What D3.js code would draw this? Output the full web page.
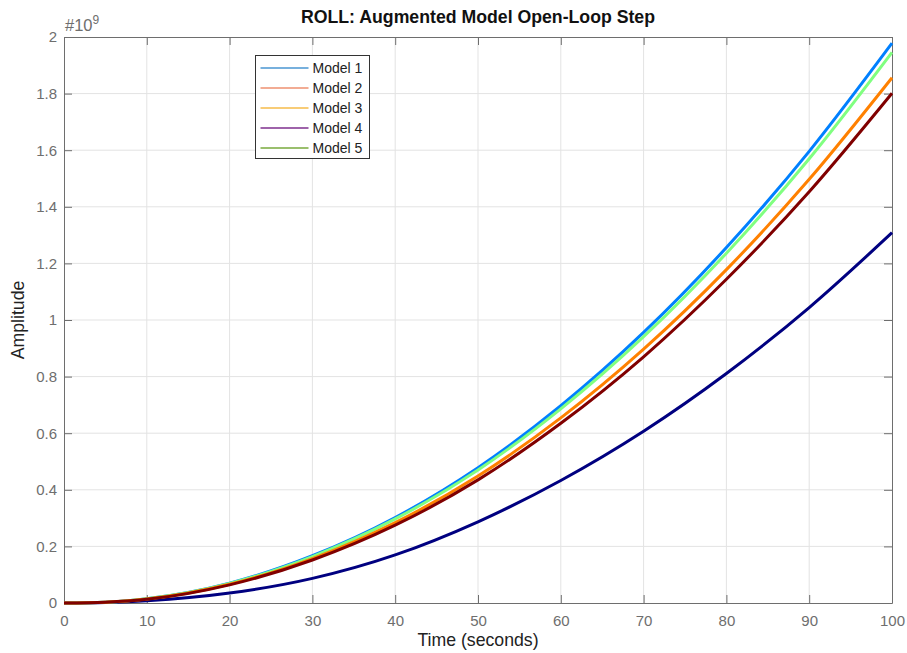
<!DOCTYPE html>
<html>
<head>
<meta charset="utf-8">
<script src="https://cdn.jsdelivr.net/npm/d3@7"></script>
<style>
  body { margin: 0; background: #fff; }
  svg text { font-family: "Liberation Sans", Arial, sans-serif; }
</style>
</head>
<body>
<div id="chart"></div>
<script>
// data, amplitude in units of 1e9
var time = [0, 5, 10, 20, 30, 40, 50, 60, 70, 80, 90, 100]
var navy = [0, 0.002, 0.008, 0.035, 0.087, 0.170, 0.287, 0.433, 0.607, 0.811, 1.044, 1.3085]
var blue = [0, 0.003, 0.015, 0.070, 0.167, 0.302, 0.478, 0.697, 0.956, 1.256, 1.596, 1.978]
var green = [0, 0.003, 0.015, 0.069, 0.164, 0.297, 0.470, 0.686, 0.941, 1.236, 1.570, 1.946]
var orange = [0, 0.003, 0.014, 0.066, 0.157, 0.284, 0.449, 0.654, 0.897, 1.178, 1.497, 1.856]
var darkred = [0, 0.003, 0.013, 0.064, 0.152, 0.275, 0.435, 0.635, 0.870, 1.144, 1.453, 1.801]

var plotSeries = [navy, blue, green, orange, darkred]
var plotColors = ["#000080", "#0080ff", "#80ff80", "#ff8000", "#800000"]

var legendNames = ["Model 1", "Model 2", "Model 3", "Model 4", "Model 5"]
var legendColors = ["#77b0dd", "#ee9070", "#f6bb4a", "#7e2f8e", "#79aa3c"]

var xTicks = [0, 10, 20, 30, 40, 50, 60, 70, 80, 90, 100]
var yTicks = [0, 0.2, 0.4, 0.6, 0.8, 1, 1.2, 1.4, 1.6, 1.8, 2]

canvas = ({width: 907, height: 653})
margin = ({top: 37, right: 15, bottom: 50, left: 64})

var x = d3.scaleLinear().domain([0, 100]).range([margin.left, canvas.width - margin.right])
var y = d3.scaleLinear().domain([0, 2]).range([canvas.height - margin.bottom, margin.top])

var svg = d3.select("#chart").append("svg")
    .attr("width", canvas.width)
    .attr("height", canvas.height)

var axisGray = "#6e6e6e"

// grid
svg.append("g").selectAll("line").data(xTicks.slice(1, -1)).join("line")
    .attr("x1", d => x(d)).attr("x2", d => x(d))
    .attr("y1", y(0)).attr("y2", y(2))
    .attr("stroke", "#e3e3e3").attr("stroke-width", 1)
svg.append("g").selectAll("line").data(yTicks.slice(1, -1)).join("line")
    .attr("x1", x(0)).attr("x2", x(100))
    .attr("y1", d => y(d)).attr("y2", d => y(d))
    .attr("stroke", "#e3e3e3").attr("stroke-width", 1)

// axes with inward ticks, all four sides
var tick = 8
svg.append("g")
    .attr("transform", `translate(0,${y(0)})`)
    .call(d3.axisBottom(x).tickValues(xTicks).tickSizeInner(-tick).tickSizeOuter(0).tickPadding(12))
svg.append("g")
    .attr("transform", `translate(0,${y(2)})`)
    .call(d3.axisTop(x).tickValues(xTicks).tickSizeInner(-tick).tickSizeOuter(0).tickFormat(""))
svg.append("g")
    .attr("transform", `translate(${x(0)},0)`)
    .call(d3.axisLeft(y).tickValues(yTicks).tickSizeInner(-tick).tickSizeOuter(0).tickPadding(7).tickFormat(d3.format("~g")))
svg.append("g")
    .attr("transform", `translate(${x(100)},0)`)
    .call(d3.axisRight(y).tickValues(yTicks).tickSizeInner(-tick).tickSizeOuter(0).tickFormat(""))

svg.selectAll(".domain, .tick line").attr("stroke", axisGray)
svg.selectAll(".tick text").attr("fill", axisGray).style("font-size", "15px")

// exponent label
var ex = svg.append("text")
    .attr("x", x(0) + 1).attr("y", y(2) - 6)
    .attr("fill", axisGray).style("font-size", "16.5px")
ex.append("tspan").text("#10")
ex.append("tspan").attr("dy", -7).style("font-size", "12px").text("9")

// lines
var line = d3.line()
    .x((d, i) => x(time[i]))
    .y(d => y(d))
    .curve(d3.curveMonotoneX)

svg.append("g").selectAll("path").data(plotSeries).join("path")
    .attr("fill", "none")
    .attr("stroke", (d, i) => plotColors[i])
    .attr("stroke-width", 3)
    .attr("stroke-linejoin", "round")
    .attr("d", d => line(d))

// titles
svg.append("text")
    .attr("x", (x(0) + x(100)) / 2).attr("y", 23)
    .attr("text-anchor", "middle")
    .style("font-size", "17.7px").style("font-weight", "bold")
    .attr("fill", "#111")
    .text("ROLL: Augmented Model Open-Loop Step")
svg.append("text")
    .attr("x", (x(0) + x(100)) / 2).attr("y", 646)
    .attr("text-anchor", "middle")
    .style("font-size", "17.7px").attr("fill", "#222")
    .text("Time (seconds)")
svg.append("text")
    .attr("transform", `translate(24,${(y(0) + y(2)) / 2}) rotate(-90)`)
    .attr("text-anchor", "middle")
    .style("font-size", "17.7px").attr("fill", "#222")
    .text("Amplitude")

// legend
var lg = svg.append("g").attr("transform", "translate(255.5,55.5)")
lg.append("rect")
    .attr("width", 114).attr("height", 103)
    .attr("fill", "#fff").attr("stroke", "#333").attr("stroke-width", 1)
var rows = lg.selectAll("g").data(legendNames).join("g")
    .attr("transform", (d, i) => `translate(0,${12.5 + i * 20})`)
rows.append("line")
    .attr("x1", 5).attr("x2", 53)
    .attr("stroke", (d, i) => legendColors[i])
    .attr("stroke-width", (d, i) => i == 0 ? 2 : 1.5)
rows.append("text")
    .attr("x", 57).attr("y", 5)
    .style("font-size", "14px").attr("fill", "#222")
    .text(d => d)
</script>
</body>
</html>
